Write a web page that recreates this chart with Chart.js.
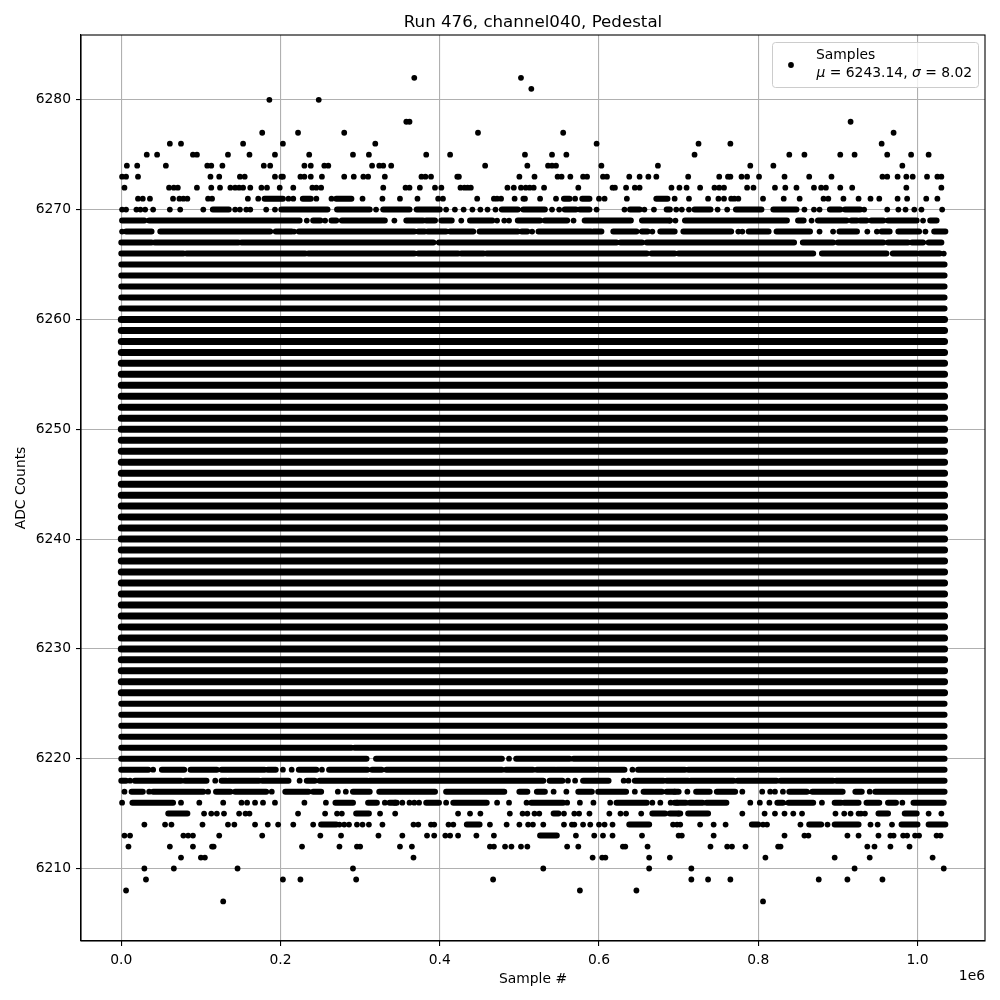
<!DOCTYPE html>
<html>
<head>
<meta charset="utf-8">
<title>Run 476, channel040, Pedestal</title>
<script src="https://cdn.jsdelivr.net/npm/chart.js@4/dist/chart.umd.js"></script>
<style>
  body { margin: 0; background: #fff; }
</style>
</head>
<body>
<canvas id="myChart" width="1000" height="1000"></canvas>
<script>
// all sample numbers are in thousands
const xTicks = [0, 200, 400, 600, 800, 1000];
const yTicks = [6210, 6220, 6230, 6240, 6250, 6260, 6270, 6280];

// single dots, one list per ADC level
const dotLevels = [6282, 6281, 6280, 6278, 6277, 6276, 6275, 6274, 6273, 6272, 6271, 6270, 6269, 6268, 6266,
  6220, 6219, 6218, 6217, 6216, 6215, 6214, 6213, 6212, 6211, 6210, 6209, 6208, 6207];
const dotSamples = [
  [368, 502],
  [515],
  [186, 248],
  [358, 362, 916],
  [177, 222, 280, 448, 555, 970],
  [61, 75, 153, 203, 319, 597, 725, 765, 955],
  [32, 45, 90, 95, 134, 161, 193, 236, 291, 311, 383, 413, 507, 541, 559, 720, 839, 858, 903, 921, 962, 992, 1014],
  [7, 20, 56, 108, 113, 127, 179, 187, 230, 238, 255, 260, 315, 324, 329, 339, 457, 510, 536, 541, 546, 603, 674, 790, 819, 981],
  [1, 6, 21, 112, 123, 149, 155, 193, 201, 203, 225, 230, 238, 252, 280, 292, 304, 310, 331, 377, 382, 389, 422, 424, 500, 519, 548, 553, 564, 580, 585, 605, 610, 638, 651, 662, 672, 712, 751, 762, 765, 779, 786, 801, 833, 864, 892, 956, 962, 975, 986, 994, 1012, 1025, 1030],
  [4, 60, 66, 71, 95, 113, 124, 137, 143, 148, 153, 162, 176, 183, 199, 216, 240, 245, 251, 329, 357, 362, 375, 394, 402, 426, 431, 435, 439, 485, 493, 502, 508, 513, 518, 531, 574, 617, 620, 634, 645, 651, 691, 701, 710, 727, 745, 751, 757, 786, 794, 821, 834, 848, 870, 879, 885, 903, 918, 986, 1030],
  [21, 27, 36, 65, 73, 78, 83, 109, 114, 159, 172, 210, 216, 245, 264, 303, 328, 350, 372, 398, 404, 447, 468, 472, 477, 494, 505, 507, 526, 546, 570, 600, 607, 635, 695, 713, 737, 750, 757, 766, 770, 775, 806, 832, 852, 882, 888, 907, 926, 941, 952, 975, 987, 1011, 1025],
  [1, 6, 19, 24, 30, 40, 61, 74, 103, 143, 149, 157, 162, 182, 193, 320, 408, 419, 430, 441, 451, 460, 470, 541, 550, 597, 632, 657, 669, 697, 704, 713, 749, 761, 858, 870, 877, 933, 962, 976, 985, 996, 1005, 1031],
  [233, 256, 343, 427, 472, 481, 487, 568, 689, 696, 867, 1007],
  [1, 217, 516, 667, 775, 780, 877, 894, 937, 949, 1010],
  [1033],
  [487],
  [40, 203, 214, 252, 642],
  [11, 118, 224, 561, 570, 631, 637],
  [4, 35, 109, 189, 272, 282, 543, 559, 645, 695, 711, 780, 805, 815, 821, 831, 940],
  [1, 75, 98, 128, 151, 158, 168, 178, 193, 230, 257, 331, 344, 353, 362, 368, 374, 408, 472, 487, 509, 560, 576, 593, 614, 667, 677, 690, 698, 790, 802, 814, 880, 981],
  [104, 113, 120, 129, 148, 156, 161, 222, 256, 271, 277, 325, 344, 423, 438, 451, 488, 504, 510, 519, 525, 556, 569, 575, 588, 613, 627, 634, 653, 700, 780, 808, 821, 833, 844, 855, 897, 908, 916, 926, 929, 934, 1014, 1030],
  [29, 55, 63, 102, 134, 142, 168, 184, 197, 216, 241, 274, 280, 286, 296, 303, 311, 328, 367, 373, 389, 393, 411, 417, 463, 484, 500, 511, 517, 530, 556, 566, 569, 580, 589, 600, 607, 617, 693, 698, 702, 727, 744, 759, 806, 811, 853, 887, 941, 950, 968],
  [4, 11, 78, 84, 90, 123, 177, 250, 276, 323, 353, 384, 393, 407, 413, 423, 446, 468, 571, 594, 605, 617, 654, 700, 704, 744, 833, 858, 863, 912, 926, 951, 966, 970, 982, 987, 997, 1002, 1024, 1029],
  [9, 61, 90, 114, 116, 227, 274, 296, 300, 350, 365, 463, 468, 482, 490, 502, 510, 560, 574, 630, 633, 661, 740, 761, 767, 784, 825, 828, 937, 946, 966, 990],
  [75, 100, 105, 367, 592, 604, 608, 663, 689, 809, 896, 940, 1019],
  [29, 66, 146, 291, 530, 663, 716, 921, 1033],
  [31, 203, 225, 295, 467, 716, 737, 765, 876, 912, 956],
  [6, 576, 647],
  [128, 806]
];

// rows where the dots overlap into a solid bar: start, end, start, end ...
const runLevels = [6271, 6270, 6269, 6268, 6267, 6266, 6265, 6264, 6263, 6262, 6261, 6225, 6224, 6223, 6222, 6221, 6220, 6219, 6218, 6217, 6216, 6215, 6214, 6213];
const runSamples = [
  [180, 203, 228, 238, 270, 289, 556, 563, 579, 588, 672, 686],
  [115, 135, 201, 259, 271, 312, 329, 362, 371, 400, 478, 498, 505, 532, 557, 571, 576, 588, 639, 651, 685, 689, 720, 740, 772, 804, 819, 848, 890, 903, 909, 928],
  [1, 29, 35, 224, 241, 250, 264, 270, 277, 331, 358, 379, 383, 394, 402, 415, 438, 466, 498, 526, 532, 560, 582, 640, 654, 689, 708, 836, 850, 857, 875, 911, 917, 924, 928, 936, 942, 957, 963, 999, 1016, 1024],
  [6, 38, 49, 187, 194, 214, 223, 368, 373, 381, 385, 408, 413, 442, 450, 498, 503, 510, 524, 590, 593, 603, 618, 647, 654, 661, 677, 695, 706, 766, 788, 813, 823, 865, 902, 924, 955, 965, 976, 1002, 1021, 1035],
  [0, 38, 42, 147, 151, 392, 399, 622, 627, 654, 660, 845, 856, 894, 900, 957, 963, 988, 993, 1007, 1014, 1030],
  [0, 78, 82, 231, 235, 368, 373, 395, 398, 423, 427, 455, 459, 660, 666, 695, 700, 869, 880, 961, 969, 999, 1003, 1028],
  [0, 1034],
  [0, 1034],
  [0, 1034],
  [0, 1034],
  [0, 1034],
  [0, 1034],
  [0, 1034],
  [0, 1034],
  [0, 1034],
  [0, 289, 293, 1034],
  [0, 308, 320, 478, 496, 563, 568, 594, 596, 1034],
  [0, 34, 51, 79, 87, 120, 126, 180, 184, 194, 223, 245, 261, 309, 315, 327, 333, 478, 483, 517, 522, 545, 547, 596, 600, 632, 649, 708, 712, 798, 802, 1034],
  [0, 6, 17, 75, 80, 107, 126, 132, 135, 173, 177, 210, 233, 243, 249, 309, 312, 530, 538, 554, 580, 612, 645, 681, 685, 712, 715, 769, 774, 823, 828, 894, 898, 1034],
  [13, 27, 40, 103, 119, 137, 143, 182, 206, 235, 241, 251, 291, 312, 324, 394, 408, 481, 500, 510, 522, 532, 574, 591, 599, 634, 656, 679, 685, 700, 722, 739, 748, 771, 839, 861, 868, 906, 922, 930, 947, 1034],
  [14, 65, 269, 291, 310, 321, 337, 346, 383, 399, 417, 459, 515, 555, 622, 660, 695, 709, 714, 730, 735, 760, 824, 831, 838, 869, 896, 904, 908, 926, 936, 952, 963, 973, 995, 1033],
  [59, 83, 295, 311, 543, 549, 667, 683, 689, 702, 712, 737, 951, 963, 984, 999],
  [251, 270, 434, 450, 638, 663, 792, 800, 864, 879, 896, 926, 980, 1000, 1014, 1035],
  [526, 547]
];

// levels with samples all the way across, too dense to tell dots apart
const solidLevels = [6226, 6227, 6228, 6229, 6230, 6231, 6232, 6233, 6234, 6235, 6236, 6237,
  6238, 6239, 6240, 6241, 6242, 6243, 6244, 6245, 6246, 6247, 6248, 6249, 6250, 6251, 6252, 6253, 6254, 6255, 6256,
  6257, 6258, 6259, 6260];
const solidSpan = [0, 1034];

const FONT = '"DejaVu Sans"';

const dotData = [];
dotLevels.forEach((level, i) => {
  dotSamples[i].forEach(s => dotData.push({ x: s, y: level }));
});

// NaN point breaks the line between two runs
const runData = [];
runLevels.forEach((level, i) => {
  for (let j = 0; j < runSamples[i].length; j += 2) {
    runData.push({ x: runSamples[i][j], y: level }, { x: runSamples[i][j + 1], y: level }, { x: NaN, y: NaN });
  }
});
const solidData = [];
solidLevels.forEach(level => {
  solidData.push({ x: solidSpan[0], y: level }, { x: solidSpan[1], y: level }, { x: NaN, y: NaN });
});

// spines on top/right, the 1e6 offset and the legend box
const extras = {
  id: 'extras',
  afterDraw(chart) {
    const c = chart.ctx;
    const a = chart.chartArea;
    c.save();
    c.strokeStyle = '#000';
    c.lineWidth = 1.1;
    c.strokeRect(a.left, a.top, a.right - a.left, a.bottom - a.top);

    c.fillStyle = '#000';
    c.font = '13.89px ' + FONT;
    c.textAlign = 'right';
    c.textBaseline = 'alphabetic';
    c.fillText('1e6', a.right, 980);

    c.beginPath();
    c.roundRect(772.5, 42.5, 206, 45, 3);
    c.fillStyle = 'rgba(255,255,255,0.8)';
    c.fill();
    c.strokeStyle = '#ccc';
    c.lineWidth = 1;
    c.stroke();

    c.fillStyle = '#000';
    c.beginPath();
    c.arc(791, 65, 2.9, 0, Math.PI * 2);
    c.fill();

    c.textAlign = 'left';
    c.fillText('Samples', 816, 59);
    let x = 816.5;
    [['\u03bc', true], [' = 6243.14, ', false], ['\u03c3', true], [' = 8.02', false]].forEach(([t, ital]) => {
      c.font = (ital ? 'italic ' : '') + '13.89px ' + FONT;
      c.fillText(t, x, 77);
      x += c.measureText(t).width;
    });
    c.restore();
  }
};

new Chart(document.getElementById('myChart'), {
  type: 'scatter',
  data: {
    datasets: [
      {
        label: 'Samples',
        data: dotData,
        backgroundColor: '#000',
        borderWidth: 0,
        pointRadius: 2.9,
        pointHoverRadius: 2.9
      },
      {
        label: 'Samples (overlapping rows)',
        data: runData,
        showLine: true,
        spanGaps: false,
        borderColor: '#000',
        borderWidth: 6,
        borderCapStyle: 'round',
        pointRadius: 0,
        pointHoverRadius: 0
      },
      {
        label: 'Samples (solid rows)',
        data: solidData,
        showLine: true,
        spanGaps: false,
        borderColor: '#000',
        borderWidth: 7,
        borderCapStyle: 'round',
        pointRadius: 0,
        pointHoverRadius: 0
      }
    ]
  },
  options: {
    responsive: false,
    animation: false,
    events: [],
    layout: { padding: { right: 15 } },
    plugins: {
      legend: { display: false },
      tooltip: { enabled: false },
      title: {
        display: true,
        text: 'Run 476, channel040, Pedestal',
        color: '#000',
        fullSize: false,
        font: { family: FONT, size: 16.67, weight: 'normal', lineHeight: 1.2 },
        padding: { top: 13, bottom: 2 }
      }
    },
    scales: {
      x: {
        type: 'linear',
        min: -50.6,
        max: 1084.8,
        afterBuildTicks: scale => { scale.ticks = xTicks.map(v => ({ value: v })); },
        afterFit: scale => { scale.height = 59; },
        ticks: {
          color: '#000',
          padding: 6,
          maxRotation: 0,
          font: { family: FONT, size: 13.89 },
          callback: v => (v / 1000).toFixed(1)
        },
        grid: { color: '#b0b0b0', lineWidth: 1.1, tickColor: '#000', tickWidth: 1.1, tickLength: 5 },
        border: { color: '#000', width: 1.1 },
        title: {
          display: true,
          text: 'Sample #',
          color: '#000',
          font: { family: FONT, size: 13.89 },
          padding: { top: 0, bottom: 12.5 }
        }
      },
      y: {
        type: 'linear',
        min: 6203.4,
        max: 6285.9,
        afterBuildTicks: scale => { scale.ticks = yTicks.map(v => ({ value: v })); },
        afterFit: scale => { scale.width = 81; },
        ticks: {
          color: '#000',
          padding: 5,
          font: { family: FONT, size: 13.89 },
          callback: v => String(v)
        },
        grid: { color: '#b0b0b0', lineWidth: 1.1, tickColor: '#000', tickWidth: 1.1, tickLength: 5 },
        border: { color: '#000', width: 1.1 },
        title: {
          display: true,
          text: 'ADC Counts',
          color: '#000',
          font: { family: FONT, size: 13.89 },
          padding: { top: 13.5, bottom: 0 }
        }
      }
    }
  },
  plugins: [extras]
});
</script>
</body>
</html>
